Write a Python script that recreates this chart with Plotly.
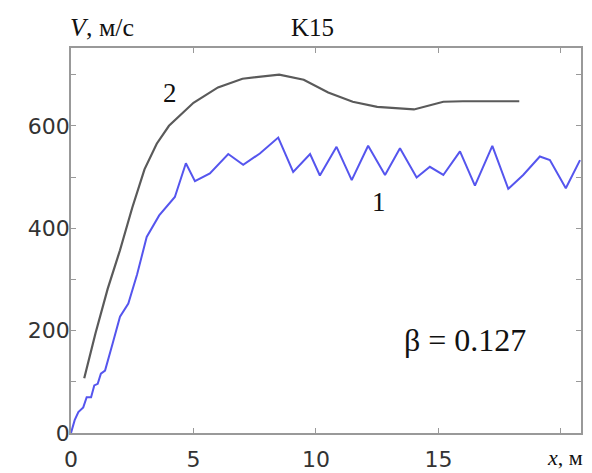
import plotly.graph_objects as go

# Curve 1: jagged velocity profile (blue)
x1 = [0.0, 0.15, 0.3, 0.5, 0.64, 0.82, 0.95, 1.09, 1.22, 1.39, 1.7, 2.0, 2.34, 2.7,
      3.09, 3.6, 4.24, 4.69, 5.06, 5.67, 6.42, 7.03, 7.71, 8.46, 9.07, 9.76, 10.16,
      10.84, 11.46, 12.13, 12.82, 13.43, 14.11, 14.65, 15.2, 15.88, 16.49, 17.2,
      17.85, 18.46, 19.14, 19.55, 20.2, 20.78]
v1 = [0, 25, 41, 50, 70, 70, 93, 96, 116, 122, 175, 227, 253, 310,
      383, 425, 461, 527, 492, 507, 545, 524, 546, 577, 510, 545, 503,
      559, 494, 561, 504, 556, 499, 520, 504, 550, 483, 561,
      477, 504, 540, 533, 478, 533]

# Curve 2: smooth velocity profile (grey)
x2 = [0.54, 1.0, 1.5, 2.0, 2.5, 3.0, 3.5, 4.0, 5.0, 6.0, 7.0, 8.0, 8.5, 9.5,
      10.5, 11.5, 12.5, 14.0, 15.2, 16.0, 18.3]
v2 = [107, 195, 282, 357, 440, 515, 565, 600, 645, 675, 692, 698, 700, 690,
      665, 647, 637, 632, 647, 648, 648]

y_ticks = [0, 100, 200, 300, 400, 500, 600, 700]
y_labels = ["0", "", "200", "", "400", "", "600", ""]
x_ticks = [0, 5, 10, 15, 20]
x_labels = ["0", "5", "10", "15", ""]

serif = "Liberation Serif"
sans = "DejaVu Sans"

W, H = 592, 473
L, R, T, B = 71, 11, 48, 40
PW, PH = W - L - R, H - T - B

fig = go.Figure()
fig.add_trace(go.Scatter(x=x2, y=v2, mode="lines",
                         line=dict(color="#5a5a5a", width=2.2), showlegend=False))
fig.add_trace(go.Scatter(x=x1, y=v1, mode="lines",
                         line=dict(color="#5555ee", width=2), showlegend=False))

fig.update_layout(
    width=W, height=H,
    margin=dict(l=L, r=R, t=T, b=B),
    paper_bgcolor="white", plot_bgcolor="white",
    xaxis=dict(range=[0, 20.82], tickvals=x_ticks, ticktext=x_labels,
               ticks="inside", ticklen=5, tickcolor="#999",
               showline=True, linecolor="#999", linewidth=1.5, mirror="ticks",
               showgrid=False, zeroline=False, ticklabelstandoff=6, automargin=False,
               tickfont=dict(family=sans, size=22, color="#333")),
    yaxis=dict(range=[0, 752], tickvals=y_ticks, ticktext=y_labels,
               ticks="inside", ticklen=5, tickcolor="#999",
               showline=True, linecolor="#999", linewidth=1.5, mirror="ticks",
               showgrid=False, zeroline=False, ticklabelstandoff=-5, automargin=False,
               tickfont=dict(family=sans, size=22, color="#333")),
)

# Text labels placed by pixel centre, converted to plot-area fractions
annos = [
    dict(x=102, y=27, text="<i>V</i>, м/с", size=26),
    dict(x=312, y=27, text="K15", size=25),
    dict(x=170, y=93, text="2", size=27),
    dict(x=379, y=202, text="1", size=27),
    dict(x=465, y=340, text="β&nbsp;=&nbsp;0.127", size=32),
    dict(x=565, y=458, text="<i>x</i>, м", size=22),
]
for a in annos:
    fig.add_annotation(x=(a["x"] - L) / PW, y=(H - B - a["y"]) / PH,
                       xref="paper", yref="paper",
                       text=a["text"], showarrow=False, xanchor="center", yanchor="middle",
                       font=dict(family=serif, size=a["size"], color="#111"))

fig.write_html("out.html")
